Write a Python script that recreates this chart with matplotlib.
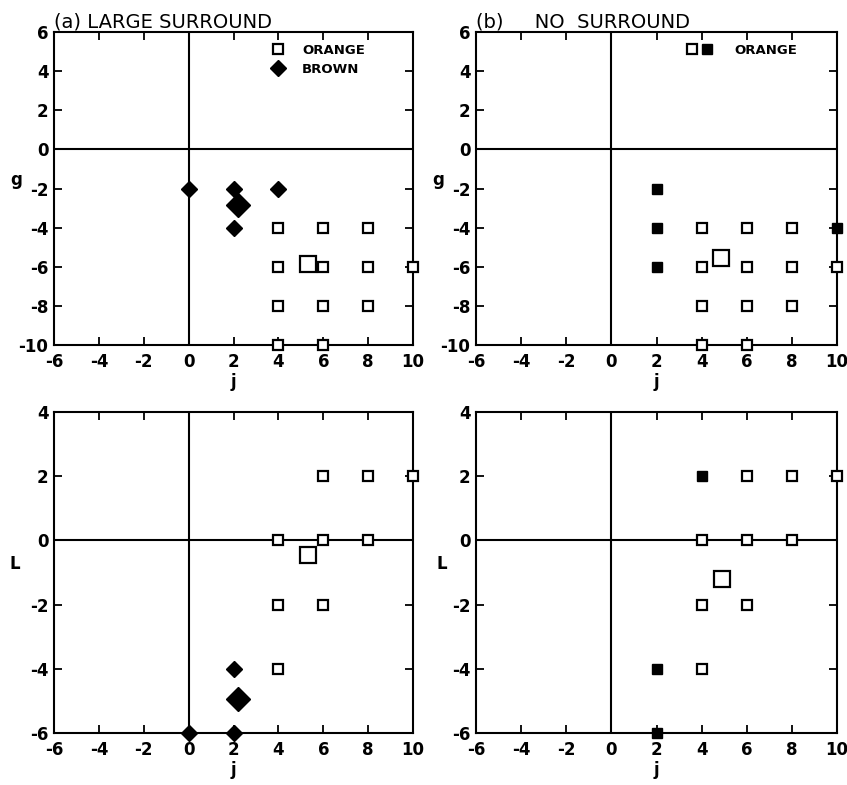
import matplotlib.pyplot as plt
from matplotlib.lines import Line2D
from matplotlib.legend_handler import HandlerTuple

plt.rcParams['font.family'] = ['DejaVu Sans']
plt.rcParams['axes.unicode_minus'] = False

# orange samples (open squares), same grid in both panels
orange_j_g = [4, 6, 8, 4, 6, 8, 10, 4, 6, 8, 4, 6]
orange_g = [-4, -4, -4, -6, -6, -6, -6, -8, -8, -8, -10, -10]
orange_j_L = [6, 8, 10, 4, 6, 8, 4, 6, 4]
orange_L = [2, 2, 2, 0, 0, 0, -2, -2, -4]

# (a) large surround: brown samples + means
brown_j_g = [0, 2, 4, 2]
brown_g = [-2, -2, -2, -4]
brown_j_L = [2, 0, 2]
brown_L = [-4, -6, -6]
mean_a_orange_g = (5.3, -5.85)
mean_a_brown_g = (2.2, -2.85)
mean_a_orange_L = (5.3, -0.45)
mean_a_brown_L = (2.2, -4.95)

# (b) no surround: filled squares + means
filled_j_g = [2, 2, 2, 10]
filled_g = [-2, -4, -6, -4]
filled_j_L = [4, 2, 2]
filled_L = [2, -4, -6]
mean_b_orange_g = (4.85, -5.55)
mean_b_orange_L = (4.9, -1.2)

g_ticks = [6, 4, 2, 0, -2, -4, -6, -8, -10]
L_ticks = [4, 2, 0, -2, -4, -6]
j_ticks = [-6, -4, -2, 0, 2, 4, 6, 8, 10]

fig = plt.figure(figsize=(8.47, 7.85), dpi=100)
ax_a1 = fig.add_axes([0.0638, 0.5605, 0.4238, 0.3987])
ax_b1 = fig.add_axes([0.5620, 0.5605, 0.4262, 0.3987])
ax_a2 = fig.add_axes([0.0638, 0.0662, 0.4238, 0.4090])
ax_b2 = fig.add_axes([0.5620, 0.0662, 0.4262, 0.4090])

fs = 12
sq = dict(marker='s', ms=7, mfc='white', mec='black', mew=1.6, ls='none', clip_on=False, zorder=5)
sq_big = dict(sq, ms=11)
fsq = dict(marker='s', ms=7, mfc='black', mec='black', mew=1.0, ls='none', clip_on=False, zorder=5)
dia = dict(marker='D', ms=8, mfc='black', mec='black', ls='none', clip_on=False, zorder=5)
dia_big = dict(dia, ms=12)


def style(ax, ylim, yticks, ylabel, ylab_x):
    ax.set_xlim(-6, 10)
    ax.set_ylim(*ylim)
    ax.set_xticks(j_ticks)
    ax.set_yticks(yticks)
    ax.tick_params(direction='in', length=6, width=1.3, top=True, right=True,
                   labelsize=fs)
    ax.tick_params(axis='x', pad=6)
    ax.tick_params(axis='y', pad=4)
    for lab in ax.get_xticklabels() + ax.get_yticklabels():
        lab.set_fontweight('bold')
    for s in ax.spines.values():
        s.set_linewidth(1.5)
    ax.axhline(0, color='black', lw=1.5, zorder=1)
    ax.axvline(0, color='black', lw=1.5, zorder=1)
    ax.set_xlabel('j', fontsize=fs, fontweight='bold', labelpad=1)
    ax.set_ylabel(ylabel, fontsize=fs, fontweight='bold', rotation=0)
    ax.yaxis.set_label_coords(ylab_x, 0.5)


style(ax_a1, (-10, 6), g_ticks, 'g', -0.105)
style(ax_b1, (-10, 6), g_ticks, 'g', -0.105)
style(ax_a2, (-6, 4), L_ticks, 'L', -0.11)
style(ax_b2, (-6, 4), L_ticks, 'L', -0.095)

# (a) top
ax_a1.plot(orange_j_g, orange_g, **sq)
ax_a1.plot(brown_j_g, brown_g, **dia)
ax_a1.plot(*mean_a_orange_g, **sq_big)
ax_a1.plot(*mean_a_brown_g, **dia_big)
# (a) bottom
ax_a2.plot(orange_j_L, orange_L, **sq)
ax_a2.plot(brown_j_L, brown_L, **dia)
ax_a2.plot(*mean_a_orange_L, **sq_big)
ax_a2.plot(*mean_a_brown_L, **dia_big)
# (b) top
ax_b1.plot(orange_j_g, orange_g, **sq)
ax_b1.plot(filled_j_g, filled_g, **fsq)
ax_b1.plot(*mean_b_orange_g, **sq_big)
# (b) bottom
ax_b2.plot(orange_j_L, orange_L, **sq)
ax_b2.plot(filled_j_L, filled_L, **fsq)
ax_b2.plot(*mean_b_orange_L, **sq_big)

# legends
h_open = Line2D([], [], marker='s', ms=7, mfc='white', mec='black', mew=1.6, ls='none')
h_fill = Line2D([], [], marker='s', ms=7, mfc='black', mec='black', ls='none')
h_dia = Line2D([], [], marker='D', ms=8, mfc='black', mec='black', ls='none')
leg_props = dict(weight='bold', size=9.5)
ax_a1.legend([h_open, h_dia], ['ORANGE', 'BROWN'], loc='upper left',
             bbox_to_anchor=(0.57, 1.0), frameon=False, prop=leg_props,
             handlelength=1.2, handletextpad=1.2, labelspacing=0.45)
ax_b1.legend([(h_open, h_fill)], ['ORANGE'], loc='upper left',
             bbox_to_anchor=(0.55, 1.0), frameon=False, prop=leg_props,
             handler_map={tuple: HandlerTuple(ndivide=None, pad=0.2)},
             handlelength=2.0, handletextpad=1.6)

ax_a1.set_title('(a) LARGE SURROUND', loc='left', fontsize=14, pad=3, x=0.0)
ax_b1.set_title('(b)     NO  SURROUND', loc='left', fontsize=14, pad=3, x=0.0)

fig.savefig('out.png', dpi=100)
